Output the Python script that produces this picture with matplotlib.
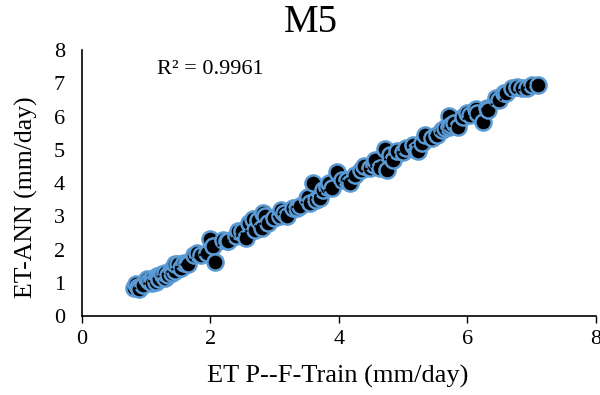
import matplotlib
matplotlib.use('Agg')
import matplotlib.pyplot as plt
import numpy as np

plt.rcParams['font.family'] = ['Liberation Serif', 'DejaVu Serif']

# observed (training) vs. ANN-predicted ET, mm/day
et_obs = [0.82, 0.85, 0.88, 0.90, 0.95, 1.02, 1.05, 1.10, 1.10, 1.15,
          1.17, 1.20, 1.20, 1.25, 1.30, 1.30, 1.35, 1.40, 1.40, 1.45,
          1.45, 1.50, 1.55, 1.60, 1.64, 1.65, 1.75, 1.80, 1.85, 1.95,
          2.00, 2.05, 2.08, 2.20, 2.26, 2.28, 2.40, 2.44, 2.50, 2.55,
          2.60, 2.67, 2.70, 2.75, 2.81, 2.83, 2.85, 2.90, 3.00, 3.09,
          3.10, 3.15, 3.20, 3.29, 3.35, 3.40, 3.50, 3.53, 3.55, 3.60,
          3.65, 3.71, 3.75, 3.82, 3.85, 3.90, 3.97, 4.05, 4.13, 4.18,
          4.25, 4.34, 4.40, 4.49, 4.55, 4.57, 4.65, 4.72, 4.75, 4.80,
          4.85, 4.91, 5.00, 5.05, 5.15, 5.20, 5.24, 5.30, 5.35, 5.45,
          5.53, 5.60, 5.65, 5.71, 5.72, 5.75, 5.80, 5.85, 5.94, 6.00,
          6.05, 6.13, 6.15, 6.24, 6.30, 6.33, 6.45, 6.50, 6.57, 6.60,
          6.70, 6.77, 6.85, 6.93, 7.00, 7.10]
et_ann = [0.85, 0.95, 0.88, 0.82, 0.92, 1.12, 1.05, 1.12, 0.98, 1.02,
          1.21, 1.20, 1.10, 1.25, 1.15, 1.30, 1.22, 1.40, 1.30, 1.35,
          1.57, 1.55, 1.45, 1.60, 1.60, 1.55, 1.85, 1.90, 1.85, 1.90,
          2.33, 2.10, 1.62, 2.30, 2.27, 2.25, 2.40, 2.57, 2.55, 2.35,
          2.80, 2.93, 2.60, 2.90, 2.66, 3.11, 3.00, 2.80, 2.95, 3.02,
          3.20, 3.10, 3.00, 3.26, 3.25, 3.30, 3.55, 3.57, 3.40, 3.99,
          3.50, 3.56, 3.80, 3.87, 4.00, 3.85, 4.32, 4.10, 4.08, 3.99,
          4.25, 4.38, 4.50, 4.44, 4.55, 4.68, 4.45, 5.04, 4.38, 4.85,
          4.70, 4.98, 4.95, 5.05, 5.14, 5.00, 4.98, 5.20, 5.44, 5.35,
          5.44, 5.60, 5.65, 5.68, 6.02, 5.75, 5.80, 5.70, 5.98, 6.10,
          6.05, 6.22, 6.10, 5.83, 6.25, 6.19, 6.55, 6.50, 6.70, 6.70,
          6.85, 6.89, 6.85, 6.86, 6.95, 6.95]
r2_text = 'R² = 0.9961'

x = np.array(et_obs)
y = np.array(et_ann)

fig = plt.figure(figsize=(6, 3.95), dpi=100)
ax = fig.add_axes([0.136, 0.2, 0.857, 0.673])

ax.scatter(x, y, s=135, facecolor='black', edgecolor='#5B9BD5',
           linewidth=1.8, zorder=2)

# linear trendline, dotted
k, b = np.polyfit(x, y, 1)
xs = np.array([x.min(), x.max()])
ax.plot(xs, k * xs + b, color='black', linestyle=(0, (1, 1.5)),
        linewidth=1.5, zorder=3)

ax.text(1.17, 7.42, r2_text, fontsize=16, va='center', ha='left')

ax.set_xlim(0, 8)
ax.set_ylim(0, 8)
ax.set_xticks(range(0, 9, 2))
ax.set_yticks(range(0, 9))
ax.tick_params(axis='x', length=5, width=1, labelsize=16, pad=5)
ax.tick_params(axis='y', length=0, labelsize=16, pad=12)

for side in ('top', 'right'):
    ax.spines[side].set_visible(False)
for side in ('left', 'bottom'):
    ax.spines[side].set_linewidth(1.2)

fig.text(338 / 600, 1 - 376 / 395, 'ET P--F-Train (mm/day)', fontsize=19,
         ha='center', va='center')
fig.text(26 / 600, 1 - 197 / 395, 'ET-ANN (mm/day)', fontsize=18.5,
         ha='center', va='center', rotation=90)
fig.text(311 / 600, 1 - 23 / 395, 'M5', fontsize=28, ha='center',
         va='center')

fig.savefig('out.png', dpi=100)
